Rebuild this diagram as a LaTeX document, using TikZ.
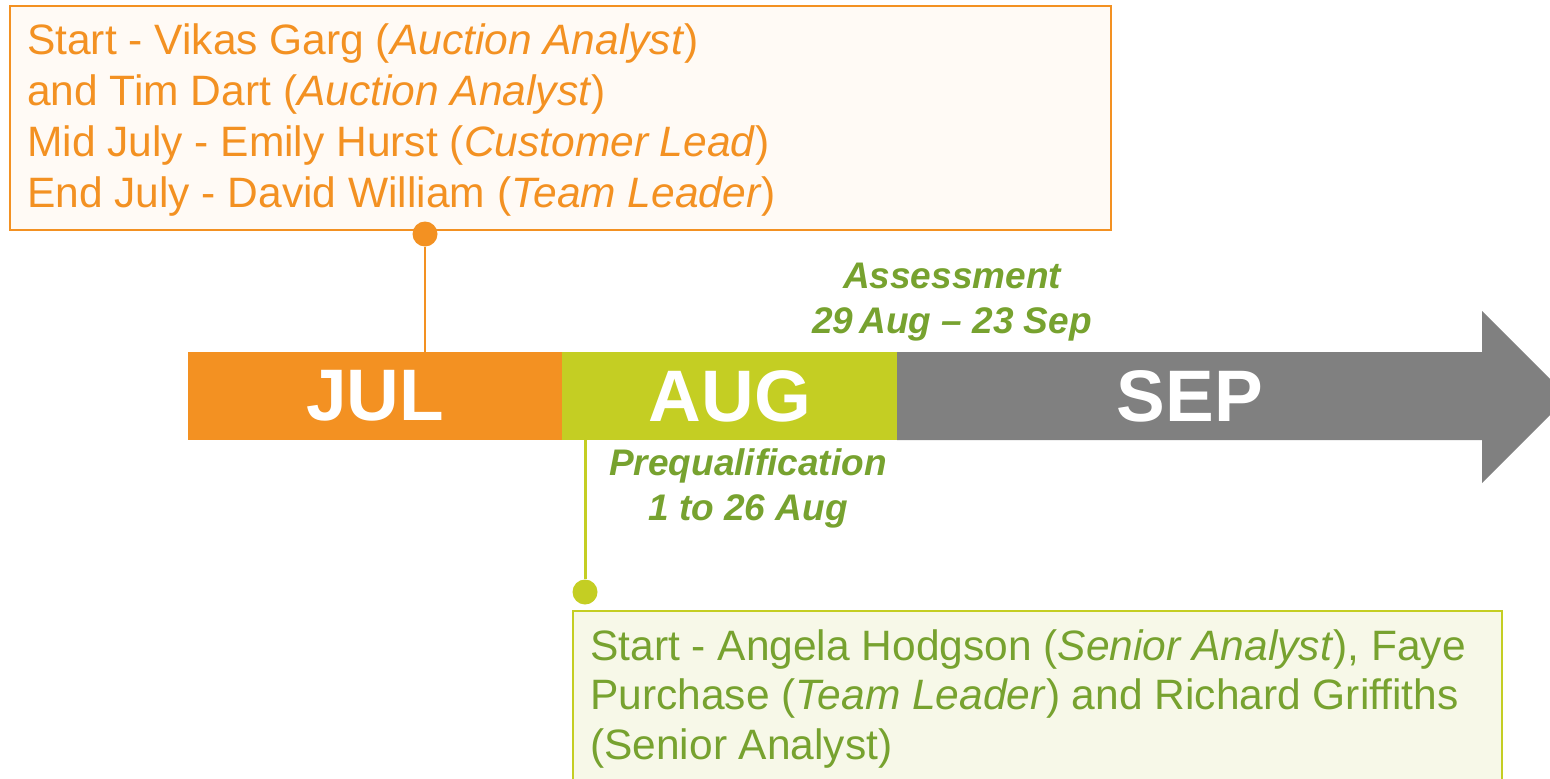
\documentclass[tikz,border=0pt]{standalone}
\usepackage{fontspec}
\setmainfont{Liberation Sans}
\definecolor{cOrange}{HTML}{F39122}
\definecolor{cLime}{HTML}{C4CE23}
\definecolor{cGray}{HTML}{808080}
\definecolor{cGreen}{HTML}{77A22F}
\definecolor{cTopFill}{HTML}{FFFAF5}
\definecolor{cBotFill}{HTML}{F7F8E8}
\tikzset{
  monthbar/.style={anchor=north west, inner sep=0pt, minimum height=88pt, text=white,
    font=\fontsize{73}{80}\selectfont\bfseries},
  infobox/.style={anchor=north west, inner sep=0pt, line width=1.5pt},
  infotext/.style={anchor=north west, inner sep=0pt, align=left},
  phase/.style={inner sep=0pt, align=center, text=cGreen,
    font=\fontsize{37}{45}\selectfont\bfseries\itshape},
  dot/.style={circle, inner sep=0pt, minimum size=25pt},
}
\begin{document}
\begin{tikzpicture}[x=1pt,y=-1pt]
\clip (0,0) rectangle (1550,779);
% month bars
\node[monthbar, fill=cOrange, minimum width=374pt] (jul) at (188,352) {JUL};
\node[monthbar, fill=cLime, minimum width=335pt] (aug) at (562,352) {AUG};
\fill[cGray] (897,352) -- (1482,352) -- (1482,311) -- (1568,397) -- (1482,483) -- (1482,440) -- (897,440) -- cycle;
\node[monthbar, minimum width=585pt] (sep) at (897,352) {SEP};
% phase labels (base = last line)
\node[phase, anchor=base] (assess) at (952,333) {Assessment\\29\,Aug -- 23 Sep};
\node[phase, anchor=base] (prequal) at (748,520) {Prequalification\\1 to 26 Aug};
% top info box
\node[infobox, draw=cOrange, fill=cTopFill, minimum width=1101pt, minimum height=224pt] (topbox) at (9,5) {};
\node[infotext, text=cOrange, font=\fontsize{42.5}{51}\selectfont] (toptext) at (27,24)
  {Start - Vikas Garg (\textit{Auction Analyst})\\
   and Tim Dart (\textit{Auction Analyst})\\
   Mid July - Emily Hurst (\textit{Customer Lead})\\
   End July - David William (\textit{Team Leader})};
\node[dot, fill=cOrange] (topdot) at (425,234) {};
\draw[cOrange, line width=2pt] (topdot) -- (topdot |- jul.north);
% bottom info box
\node[infobox, draw=cLime, fill=cBotFill, minimum width=929pt, minimum height=190pt] (botbox) at (572,610) {};
\node[infotext, text=cGreen, font=\fontsize{42.5}{49.5}\selectfont] (bottext) at (590,629)
  {Start - Angela Hodgson (\textit{Senior Analyst}), Faye\\
   Purchase (\textit{Team Leader}) and Richard Griffiths\\
   (Senior Analyst)};
\node[dot, fill=cLime] (botdot) at (585,592) {};
\draw[cLime, line width=3pt] (botdot |- aug.south) -- (botdot);
\end{tikzpicture}
\end{document}
